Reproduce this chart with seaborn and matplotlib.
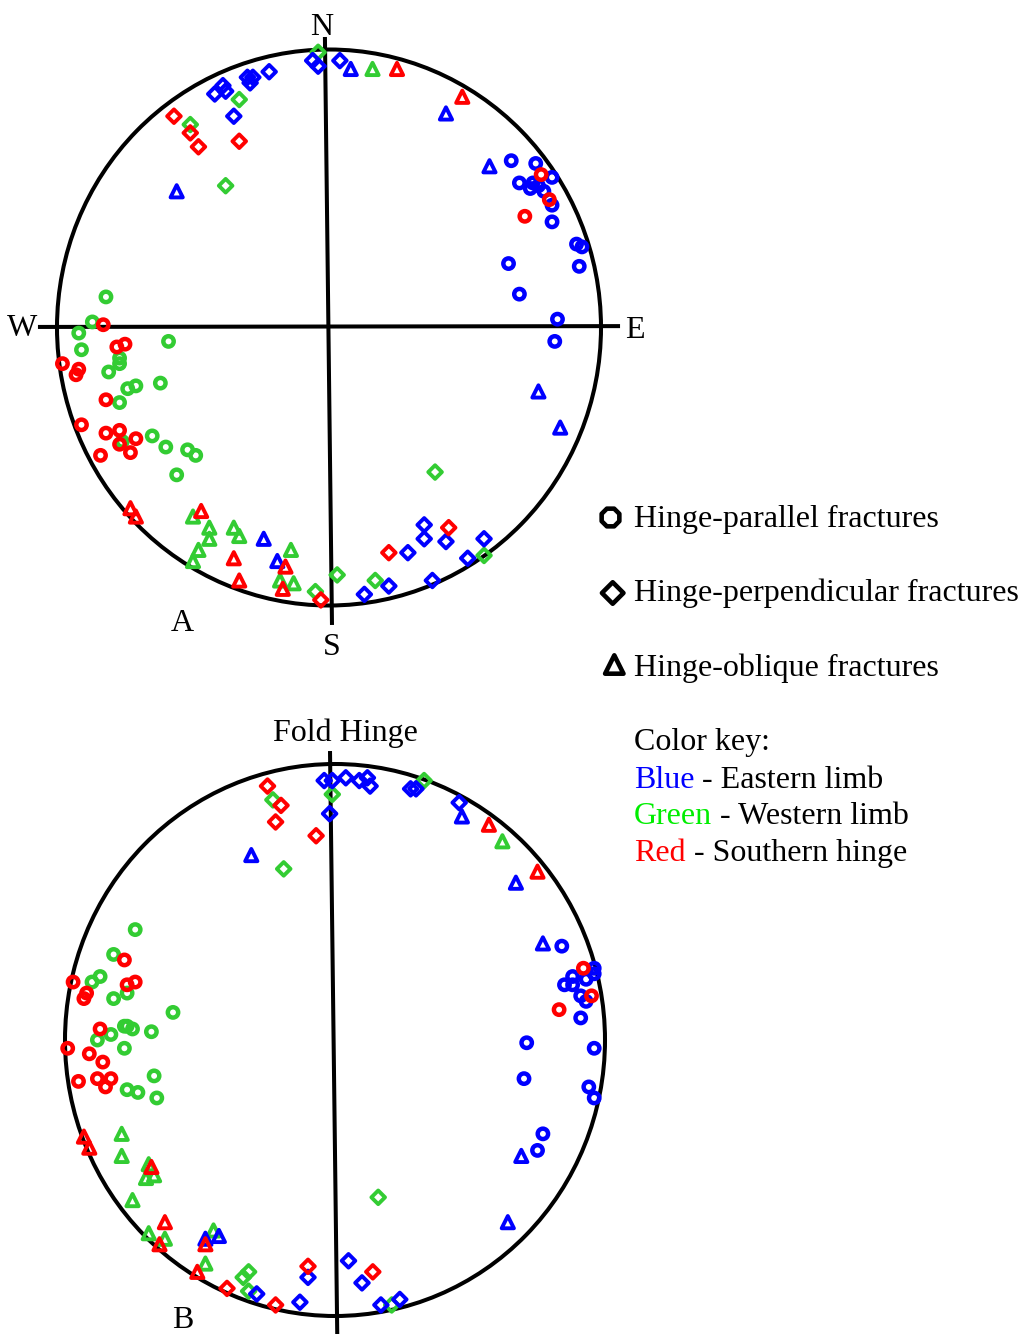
import matplotlib
matplotlib.use("Agg")
import matplotlib.pyplot as plt
from matplotlib.patches import Circle
import pandas as pd
import seaborn as sns

# Poles on the two nets, in percent of the primitive radius (x east, y north).
# Net A: geographic orientation.
A_PARALLEL_EAST = [(67, 60), (76, 59), (82, 54), (70, 52), (75, 52), (74, 50), (77, 51),
                   (79, 49), (82, 44), (82, 38), (91, 30), (93, 29), (66, 23), (92, 22),
                   (70, 12), (84, 3), (83, -5)]
A_PARALLEL_WEST = [(-82, 11), (-87, 2), (-92, -2), (-91, -8), (-59, -5), (-77, -11),
                   (-77, -13), (-81, -16), (-74, -22), (-71, -21), (-62, -20), (-77, -27),
                   (-76, -41), (-65, -39), (-60, -43), (-52, -44), (-49, -46), (-56, -53)]
A_PARALLEL_SOUTH = [(78, 55), (81, 46), (72, 40), (-83, 1), (-75, -6), (-78, -7), (-98, -13),
                    (-92, -15), (-93, -17), (-82, -26), (-91, -35), (-82, -38), (-77, -37),
                    (-71, -40), (-77, -42), (-73, -45), (-84, -46)]
A_PERP_EAST = [(-6, 96), (-4, 94), (4, 96), (-22, 92), (-30, 90), (-28, 90), (-29, 88),
               (-39, 87), (-38, 85), (-42, 84), (-35, 76), (35, -71), (35, -76), (43, -77),
               (29, -81), (57, -76), (51, -83), (22, -93), (38, -91), (13, -96)]
A_PERP_WEST = [(-4, 99), (-33, 82), (-51, 73), (-38, 51), (39, -52), (57, -82), (3, -89),
               (17, -91), (-5, -95)]
A_PERP_SOUTH = [(-57, 76), (-51, 70), (-48, 65), (-33, 67), (44, -72), (22, -81), (-3, -98)]
A_OBL_EAST = [(8, 93), (43, 77), (59, 58), (-56, 49), (77, -23), (85, -36), (-24, -76),
              (-19, -84)]
A_OBL_WEST = [(16, 93), (-50, -68), (-44, -72), (-44, -76), (-35, -72), (-33, -75), (-48, -80),
              (-50, -84), (-14, -80), (-18, -91), (-13, -92)]
A_OBL_SOUTH = [(25, 93), (49, 83), (-73, -65), (-71, -68), (-47, -66), (-35, -83), (-16, -86),
               (-33, -91), (-17, -94)]

# Net B: rotated so the fold hinge points up.
B_PARALLEL_EAST = [(84, 34), (96, 26), (96, 24), (88, 23), (93, 22), (88, 20), (85, 20),
                   (91, 16), (93, 14), (91, 8), (71, -1), (96, -3), (70, -14), (94, -17),
                   (96, -21), (77, -34), (75, -40)]
B_PARALLEL_WEST = [(-74, 40), (-82, 31), (-87, 23), (-90, 21), (-77, 17), (-82, 15), (-60, 10),
                   (-88, 0), (-83, 2), (-78, 5), (-77, 5), (-75, 4), (-68, 3), (-78, -3),
                   (-67, -13), (-77, -18), (-73, -19), (-66, -21)]
B_PARALLEL_SOUTH = [(92, 26), (95, 16), (83, 11), (-78, 29), (-97, 21), (-74, 21), (-77, 20),
                    (-92, 17), (-93, 15), (-87, 4), (-99, -3), (-91, -5), (-86, -8),
                    (-95, -15), (-88, -14), (-83, -14), (-85, -17)]
B_PERP_EAST = [(-4, 94), (-1, 94), (4, 95), (9, 94), (12, 95), (13, 92), (-2, 82), (28, 91),
               (30, 91), (46, 86), (-29, -92), (-13, -95), (-10, -86), (5, -80), (10, -88),
               (17, -96), (24, -94)]
B_PERP_WEST = [(-23, 87), (-19, 62), (-1, 89), (33, 94), (16, -57), (-32, -84), (-34, -86),
               (-32, -91), (21, -96)]
B_PERP_SOUTH = [(-25, 92), (-20, 85), (-22, 79), (-7, 74), (-40, -90), (-22, -96), (-10, -82),
                (14, -84)]
B_OBL_EAST = [(-31, 67), (47, 81), (67, 57), (77, 35), (69, -42), (64, -66), (-48, -72),
              (-43, -71)]
B_OBL_WEST = [(62, 72), (-79, -34), (-79, -42), (-69, -45), (-70, -50), (-67, -49), (-75, -58),
              (-69, -70), (-63, -72), (-45, -69), (-48, -81)]
B_OBL_SOUTH = [(57, 78), (75, 61), (-93, -35), (-91, -39), (-68, -46), (-63, -66), (-65, -74),
               (-48, -74), (-51, -84)]

KINDS = ["parallel", "perpendicular", "oblique"]
LIMBS = ["Western limb", "Eastern limb", "Southern hinge"]   # drawing order
KIND_LABELS = ["Hinge-parallel fractures", "Hinge-perpendicular fractures",
               "Hinge-oblique fractures"]
KEY_WORDS = ["Blue", "Green", "Red"]
KEY_TEXT = [" - Eastern limb", " - Western limb", " - Southern hinge"]

PALETTE = {"Eastern limb": "#0000FF", "Western limb": "#33CC33", "Southern hinge": "#FF0000"}
KEY_COLORS = ["#0000FF", "#00EE00", "#FF0000"]
MARKERS = {"parallel": "o", "perpendicular": "D", "oblique": "^"}
SIZES = {"parallel": 56, "perpendicular": 48, "oblique": 78}
WIDTHS = {"parallel": 3.2, "perpendicular": 2.8, "oblique": 2.8}


def frame(groups):
    rows = []
    for kind, limb, pts in groups:
        for x, y in pts:
            rows.append({"kind": kind, "limb": limb, "x": x / 100.0, "y": y / 100.0})
    return pd.DataFrame(rows)


net_a = frame([
    ("parallel", "Eastern limb", A_PARALLEL_EAST),
    ("parallel", "Western limb", A_PARALLEL_WEST),
    ("parallel", "Southern hinge", A_PARALLEL_SOUTH),
    ("perpendicular", "Eastern limb", A_PERP_EAST),
    ("perpendicular", "Western limb", A_PERP_WEST),
    ("perpendicular", "Southern hinge", A_PERP_SOUTH),
    ("oblique", "Eastern limb", A_OBL_EAST),
    ("oblique", "Western limb", A_OBL_WEST),
    ("oblique", "Southern hinge", A_OBL_SOUTH),
])
net_b = frame([
    ("parallel", "Eastern limb", B_PARALLEL_EAST),
    ("parallel", "Western limb", B_PARALLEL_WEST),
    ("parallel", "Southern hinge", B_PARALLEL_SOUTH),
    ("perpendicular", "Eastern limb", B_PERP_EAST),
    ("perpendicular", "Western limb", B_PERP_WEST),
    ("perpendicular", "Southern hinge", B_PERP_SOUTH),
    ("oblique", "Eastern limb", B_OBL_EAST),
    ("oblique", "Western limb", B_OBL_WEST),
    ("oblique", "Southern hinge", B_OBL_SOUTH),
])

sns.set_style("white")
plt.rcParams["font.family"] = ["Liberation Serif", "DejaVu Serif"]
plt.rcParams["text.color"] = "black"
FS = 23

W, H = 1024, 1334
fig = plt.figure(figsize=(W / 100, H / 100), dpi=100)

# Page-level axes in pixel units for labels and the key
page = fig.add_axes([0, 0, 1, 1])
page.set_xlim(0, W)
page.set_ylim(H, 0)
page.axis("off")

M = 1.25


def net_axes(cx, cy, rx, ry):
    ax = fig.add_axes([(cx - M * rx) / W, (H - (cy + M * ry)) / H,
                       2 * M * rx / W, 2 * M * ry / H])
    ax.patch.set_alpha(0)
    ax.add_patch(Circle((0, 0), 1, fill=False, lw=2.9, ec="black", zorder=1))
    return ax


def draw_points(ax, df):
    for kind in KINDS:
        sub = df[df["kind"] == kind].copy()
        sub["order"] = sub["limb"].map(LIMBS.index)
        sub = sub.sort_values("order", kind="stable")
        sns.scatterplot(data=sub, x="x", y="y", hue="limb", palette=PALETTE,
                        marker=MARKERS[kind], s=SIZES[kind], linewidth=WIDTHS[kind],
                        legend=False, ax=ax, zorder=3, clip_on=False)
        coll = ax.collections[-1]
        coll.set_edgecolors(coll.get_facecolors())
        coll.set_facecolors("none")
    ax.set_xlim(-M, M)
    ax.set_ylim(-M, M)
    ax.axis("off")


# Net A with compass cross
ax_a = net_axes(329, 327.5, 272, 278)
ax_a.plot([-0.015, 0.011], [1.045, -1.07], color="black", lw=2.9, zorder=2,
          solid_capstyle="butt")
ax_a.plot([-1.07, 1.07], [0.002, 0.005], color="black", lw=2.9, zorder=2,
          solid_capstyle="butt")
draw_points(ax_a, net_a)

# Net B with fold hinge line
ax_b = net_axes(335, 1040, 270, 276)
ax_b.plot([-0.0185, 0.009], [1.047, -1.12], color="black", lw=2.9, zorder=2,
          solid_capstyle="butt")
draw_points(ax_b, net_b)

# Labels around the nets
for s, x, y in [("N", 322, 35), ("W", 22.5, 336.5), ("E", 634.5, 338), ("S", 332, 655),
                ("A", 182.5, 631), ("B", 183, 1328)]:
    page.text(x, y, s, fontsize=FS, ha="center", va="baseline")
page.text(273, 741, "Fold Hinge", fontsize=FS, ha="left", va="baseline")

# Symbol key
for (mk, sz, mx, my), label, base in zip(
        [("8", 190, 610.5, 517.5), ("D", 120, 612.7, 593), ("^", 175, 614.3, 664.5)],
        KIND_LABELS, [527, 601, 676]):
    page.scatter([mx], [my], marker=mk, s=sz, facecolors="none", edgecolors="black",
                 linewidths=3.3, zorder=3)
    page.text(634, base, label, fontsize=FS, ha="left", va="baseline")

# Colour key
page.text(634, 750, "Color key:", fontsize=FS, ha="left", va="baseline")
for word, rest, col, base in zip(KEY_WORDS, KEY_TEXT, KEY_COLORS, [787.5, 824.5, 861]):
    t = page.text(634, base, word, fontsize=FS, ha="left", va="baseline", color=col)
    page.annotate(rest, xy=(1, 0), xycoords=t, ha="left", va="bottom",
                  fontsize=FS, color="black")

fig.savefig("out.png", dpi=100)
